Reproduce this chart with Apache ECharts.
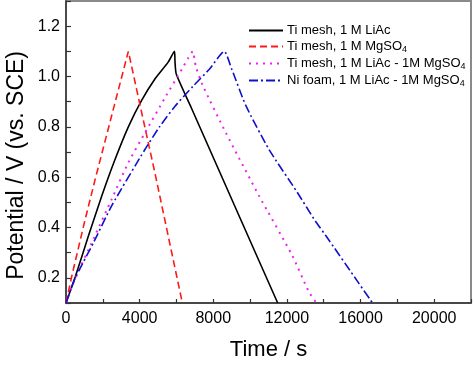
<!DOCTYPE html>
<html>
<head>
<meta charset="utf-8">
<script src="https://cdn.jsdelivr.net/npm/echarts@6/dist/echarts.min.js"></script>
<style>
html,body{margin:0;padding:0;background:#fff;}
#c{width:474px;height:366px;}
</style>
</head>
<body>
<div id="c"></div>
<script>
// Ti mesh, 1 M LiAc
var tLiAc = [0, 505, 1225, 1946, 2667, 3387, 4108, 4829, 5550, 5892, 5920, 5990, 6811, 7784, 9586, 11500];
var vLiAc = [0.10, 0.204, 0.368, 0.526, 0.671, 0.80, 0.905, 0.99, 1.057, 1.10, 1.06, 1.01, 0.875, 0.714, 0.416, 0.10];
// Ti mesh, 1 M MgSO4
var tMg = [0, 324, 1000, 1586, 2500, 3387, 4100, 4827, 6320];
var vMg = [0.10, 0.21, 0.42, 0.592, 0.85, 1.10, 0.86, 0.618, 0.10];
// Ti mesh, 1 M LiAc - 1M MgSO4
var tMix = [0, 400, 1495, 2486, 3387, 4288, 5369, 6300, 6631, 6883, 7050, 7423, 8685, 10486, 12288, 13189, 13600];
var vMix = [0.10, 0.18, 0.355, 0.513, 0.658, 0.776, 0.915, 1.03, 1.072, 1.10, 1.04, 0.965, 0.776, 0.526, 0.289, 0.145, 0.10];
// Ni foam, 1 M LiAc - 1M MgSO4
var tNi = [0, 486, 1495, 2486, 4288, 5081, 5910, 6883, 7800, 8595, 9000, 9766, 11027, 12559, 13550, 14090, 15892, 16650];
var vNi = [0.10, 0.197, 0.34, 0.487, 0.71, 0.80, 0.881, 0.96, 1.03, 1.10, 1.03, 0.885, 0.71, 0.54, 0.425, 0.37, 0.18, 0.10];

var names = ['Ti mesh, 1 M LiAc', 'Ti mesh, 1 M MgSO4', 'Ti mesh, 1 M LiAc - 1M MgSO4', 'Ni foam, 1 M LiAc - 1M MgSO4'];
var xTickLabels = ['0', '4000', '8000', '12000', '16000', '20000'];
var yTickLabels = ['0.2', '0.4', '0.6', '0.8', '1.0', '1.2'];

function zip(t, v) { return t.map(function (x, i) { return [x, v[i]]; }); }

var FONT = 'Liberation Sans, Arial, sans-serif';
var chart = echarts.init(document.getElementById('c'), null, {renderer: 'canvas'});

function mk(name, t, v, color, type, width, smooth) {
  return {
    name: name, type: 'line', data: zip(t, v), showSymbol: false, symbol: 'none',
    smooth: smooth, animation: false,
    lineStyle: {color: color, type: type, width: width},
    itemStyle: {color: color}
  };
}

chart.setOption({
  backgroundColor: '#fff',
  animation: false,
  grid: {left: 66, right: 2, top: 1, bottom: 62, show: true, borderColor: '#8a8a8a', borderWidth: 2, backgroundColor: 'transparent'},
  xAxis: {
    type: 'value', min: 0, max: 22000, interval: 2000,
    name: 'Time / s', nameLocation: 'middle', nameGap: 36,
    nameTextStyle: {fontFamily: FONT, fontSize: 22, color: '#000'},
    axisLine: {show: true, lineStyle: {color: '#333', width: 1.5}},
    axisTick: {show: true, inside: true, length: 4, lineStyle: {color: '#333', width: 1.2}},
    axisLabel: {
      margin: 8, fontFamily: FONT, fontSize: 16, color: '#000',
      formatter: function (v) { var s = String(Math.round(v)); return xTickLabels.indexOf(s) >= 0 ? s : ''; }
    },
    splitLine: {show: false}
  },
  yAxis: {
    type: 'value', min: 0.1, max: 1.3, interval: 0.1,
    axisLine: {show: true, lineStyle: {color: '#333', width: 1.5}},
    axisTick: {show: true, inside: true, length: 5, lineStyle: {color: '#333', width: 1.2}},
    axisLabel: {
      margin: 6, fontFamily: FONT, fontSize: 16, color: '#000',
      formatter: function (v) { var s = (Math.round(v * 10) / 10).toFixed(1); return yTickLabels.indexOf(s) >= 0 ? s : ''; }
    },
    splitLine: {show: false}
  },
  legend: {
    orient: 'vertical', left: 248, top: 24, padding: 0, itemWidth: 34, itemHeight: 14, itemGap: 3,
    data: names,
    itemStyle: {opacity: 0},
    textStyle: {
      fontFamily: FONT, fontSize: 13, color: '#000', padding: [0, 0, 0, -1],
      rich: {
        a: {fontFamily: FONT, fontSize: 13, color: '#000'},
        sub: {fontFamily: FONT, fontSize: 9, color: '#000', verticalAlign: 'bottom', padding: [6, 0, 0, 0]}
      }
    },
    formatter: function (n) {
      if (n.slice(-5) === 'MgSO4') return '{a|' + n.slice(0, -1) + '}{sub|4}';
      return '{a|' + n + '}';
    }
  },
  graphic: [{
    type: 'text', left: 5, top: 51,
    rotation: Math.PI / 2,
    style: {text: 'Potential / V (vs. SCE)', font: '23px ' + FONT, fill: '#000'}
  }],
  series: [
    mk(names[0], tLiAc, vLiAc, '#000000', 'solid', 1.6, 0.2),
    mk(names[1], tMg, vMg, '#ff1a1a', [7, 4], 1.6, false),
    mk(names[2], tMix, vMix, '#ee22ee', [2, 5], 2, 0.2),
    mk(names[3], tNi, vNi, '#1010cc', [9, 3, 2, 3], 1.6, 0.2)
  ]
});
</script>
</body>
</html>
